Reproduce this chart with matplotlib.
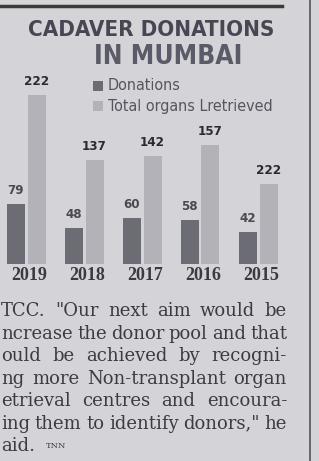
import matplotlib
matplotlib.use('Agg')
import matplotlib.pyplot as plt
from matplotlib.lines import Line2D
from matplotlib.patches import Rectangle
import numpy as np

# ============================================================
# DATA (read off the clipping)
# ============================================================
years = ['2019', '2018', '2017', '2016', '2015']
donations = [79, 48, 60, 58, 42]
# bar heights as drawn; the 2015 bar is printed much shorter than its "222" label
organs = [222, 137, 142, 157, 105]
donation_labels = ['79', '48', '60', '58', '42']
organ_labels = ['222', '137', '142', '157', '222']

body_lines = [
    'TCC. "Our next aim would be',
    'ncrease the donor pool and that',
    'ould be achieved by recogni-',
    'ng more Non-transplant organ',
    'etrieval centres and encoura-',
    'ing them to identify donors," he',
    'aid.',
]

PAPER = '#d4d4d8'
DARK = '#6c6c74'
LIGHT = '#b2b2b8'
INK = '#474754'

W, H = 319, 461
fig = plt.figure(figsize=(W / 100, H / 100), dpi=100, facecolor=PAPER)

def fy(py):
    return 1 - py / H

def fx(px):
    return px / W

# ============================================================
# BARS
# ============================================================
base_px = 264          # baseline, pixels from top
px_per_unit = 0.76
ax = fig.add_axes([0, (H - base_px) / H, 1, base_px / H])
ax.set_facecolor('none')
spacing = 58.0
first = 26.0
ax.set_xlim(-first / spacing, (W - first) / spacing)
ax.set_ylim(0, base_px / px_per_unit)

x = np.arange(len(years))
bw = 18 / spacing
off = 10.5 / spacing
ax.bar(x - off, donations, width=bw, color=DARK, linewidth=0)
ax.bar(x + off, organs, width=bw, color=LIGHT, linewidth=0)

cond = dict(family='DejaVu Sans', stretch='condensed')
for xi, v, s in zip(x, donations, donation_labels):
    ax.annotate(s, (xi - off, v), xytext=(0, 5), textcoords='offset points',
                ha='center', va='bottom', fontsize=9.5, fontweight='bold',
                color='#4a4a50', **cond)
for xi, v, s in zip(x, organs, organ_labels):
    ax.annotate(s, (xi + off, v), xytext=(0, 5), textcoords='offset points',
                ha='center', va='bottom', fontsize=9.5, fontweight='bold',
                color='#2a2a30', **cond)

ax.set_xticks(x + 0.05)
ax.set_xticklabels(years, fontsize=13, family=['Liberation Serif', 'DejaVu Serif'],
                   fontweight='bold', color='#3a3a40')
ax.tick_params(axis='x', length=0, pad=2)
ax.set_yticks([])
for sp in ax.spines.values():
    sp.set_visible(False)

# ============================================================
# TITLE + LEGEND
# ============================================================
fig.text(fx(151), fy(30), 'CADAVER DONATIONS', ha='center', va='center',
         fontsize=16, fontweight='heavy', color=INK, **cond)
fig.text(fx(168), fy(57), 'IN MUMBAI', ha='center', va='center',
         fontsize=19, fontweight='heavy', color='#5a5a68', **cond)

for py, col, txt in [(86, DARK, 'Donations'), (106, LIGHT, 'Total organs Lretrieved')]:
    fig.patches.append(Rectangle((fx(93), fy(py + 5)), fx(10), 10 / H,
                                 transform=fig.transFigure, color=col, lw=0))
    fig.text(fx(108), fy(py), txt, ha='left', va='center', fontsize=11.5,
             color='#55555f', **cond)

# rules
fig.lines.append(Line2D([0, fx(282)], [fy(6), fy(6)], transform=fig.transFigure,
                        color='#3a3a3a', lw=2.5))
fig.lines.append(Line2D([fx(310), fx(310)], [0, 1], transform=fig.transFigure,
                        color='#555558', lw=1.2))

# ============================================================
# BODY TEXT (justified column)
# ============================================================
fig.canvas.draw()
renderer = fig.canvas.get_renderer()
left_px, right_px = 1, 287
body_kw = dict(fontsize=13, family='DejaVu Serif', color='#3c3c40', va='center', ha='left')
for i, line in enumerate(body_lines):
    ypos = fy(311 + i * 22.5)
    words = line.split(' ')
    if i == len(body_lines) - 1:
        fig.text(fx(left_px), ypos, line, **body_kw)
        continue
    arts = [fig.text(0, ypos, w, **body_kw) for w in words]
    widths = [a.get_window_extent(renderer).width for a in arts]
    gap = (right_px - left_px - sum(widths)) / max(len(words) - 1, 1)
    cur = left_px
    for a, wd in zip(arts, widths):
        a.set_x(fx(cur))
        cur += wd + gap
fig.text(fx(46), fy(311 + 6 * 22.5), 'TNN', ha='left', va='center',
         fontsize=6, family='DejaVu Serif', color='#3c3c40')

fig.savefig('out.png', dpi=100, facecolor=PAPER)
